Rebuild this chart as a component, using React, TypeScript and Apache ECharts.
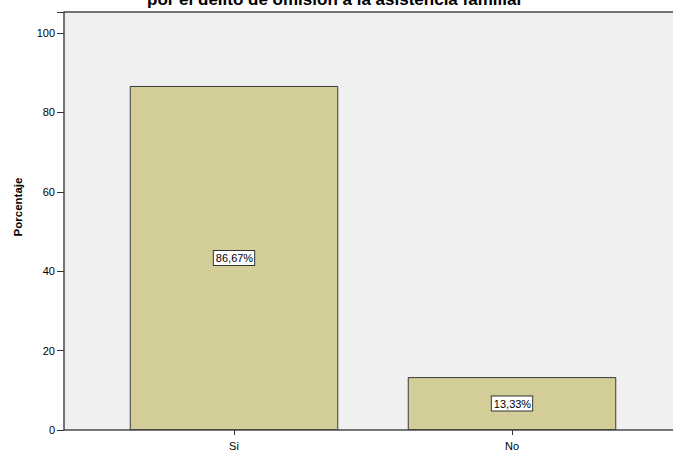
import React, { useEffect, useRef } from "react";
import * as echarts from "echarts";

const categories = ["Si", "No"];
const values = [86.67, 13.33];
const valueLabels = ["86,67%", "13,33%"];
const yTicks = [0, 20, 40, 60, 80, 100];
const titleText = "por el delito de omisión a la asistencia familiar";

export default function App() {
  const ref = useRef<HTMLDivElement>(null);
  useEffect(() => {
    const chart = echarts.init(ref.current!, null, { renderer: "svg" });
    const font = "'Liberation Sans', Arial, sans-serif";
    chart.setOption({
      animation: false,
      backgroundColor: "#ffffff",
      textStyle: { fontFamily: font },
      graphic: [
        {
          type: "rect",
          z: -10,
          shape: { x: 64, y: 12, width: 609, height: 418 },
          style: { fill: "#f0f0f0", stroke: "none" },
        },
        {
          type: "line",
          z: 5,
          shape: { x1: 64, y1: 12, x2: 673, y2: 12 },
          style: { stroke: "#4a4a4a", lineWidth: 1.5 },
        },
        {
          type: "line",
          z: 5,
          shape: { x1: 64, y1: 430, x2: 673, y2: 430 },
          style: { stroke: "#4a4a4a", lineWidth: 1.5 },
        },
        {
          type: "text",
          x: 335,
          y: 8,
          style: {
            text: titleText,
            fontFamily: font,
            fontWeight: "bold",
            fontSize: 17,
            fill: "#000",
            align: "center",
            verticalAlign: "bottom",
          },
        },
      ],
      grid: { left: 95, right: 22, top: 12, bottom: 22, containLabel: false },
      xAxis: {
        type: "category",
        data: categories,
        axisLine: { show: false },
        axisTick: { show: true, alignWithLabel: true, length: 5, lineStyle: { color: "#333" } },
        axisLabel: { color: "#000", fontSize: 11, margin: 10, fontFamily: font },
      },
      yAxis: {
        type: "value",
        min: 0,
        max: 105.3,
        interval: 20,
        offset: 31,
        name: "Porcentaje",
        nameLocation: "middle",
        nameGap: 40,
        nameTextStyle: {
          fontWeight: "bold",
          fontSize: 11.5,
          color: "#000",
          fontFamily: font,
          padding: [0, 0, 0, 28],
        },
        splitLine: { show: false },
        axisLine: { show: true, lineStyle: { color: "#4a4a4a", width: 1.5 } },
        axisTick: { show: true, length: 7, lineStyle: { color: "#333" } },
        axisLabel: {
          color: "#000",
          fontSize: 11,
          margin: 9,
          fontFamily: font,
          formatter: (v: number) => (yTicks.includes(v) ? String(v) : ""),
        },
      },
      series: [
        {
          type: "bar",
          data: values,
          barWidth: "75%",
          itemStyle: { color: "#d3ce97", borderColor: "#3a3a3a", borderWidth: 1 },
          label: {
            show: true,
            position: "inside",
            formatter: (p: any) => valueLabels[p.dataIndex],
            color: "#000",
            fontSize: 11,
            fontFamily: font,
            backgroundColor: "#ffffff",
            borderColor: "#333",
            borderWidth: 1,
            padding: [2, 1, 1, 2],
          },
        },
      ],
    });
    return () => chart.dispose();
  }, []);
  return <div ref={ref} style={{ width: 673, height: 452, position: "fixed", left: 0, top: 0 }} />;
}
